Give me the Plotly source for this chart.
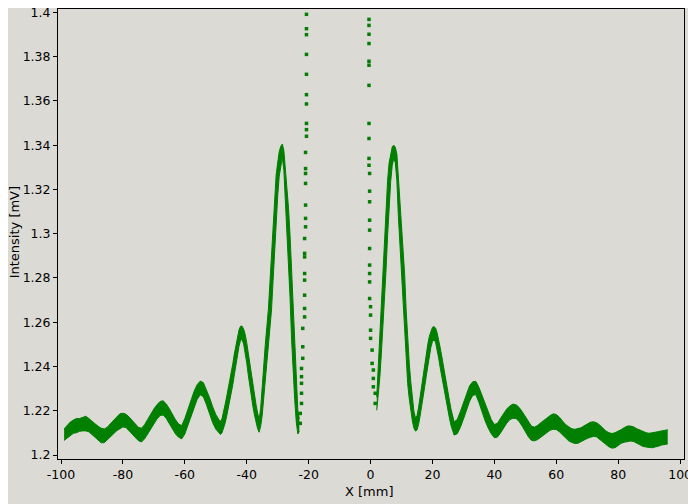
import plotly.graph_objects as go

# ---- data ----
# left noisy band (sample positions, band centre, band half-spread)
left_x = [-99, -98, -97, -96, -95, -94, -93, -92, -91, -90, -89, -88, -87, -86, -85, -84, -83, -82, -81, -80,
          -79, -78, -77, -76, -75, -74, -73, -72, -71, -70, -69, -68, -67, -66, -65, -64, -63, -62, -61, -60,
          -59, -58, -57, -56, -55, -54, -53, -52, -51, -50, -49,
          -48.5, -48, -47.5, -47, -46.5, -46, -45.5, -45, -44.5, -44, -43.5, -43, -42.5, -42, -41.5, -41,
          -40.5, -40, -39.5, -39, -38.5, -38, -37.5, -37, -36.5, -36, -35.5, -35, -34.5, -34, -33.5, -33,
          -32.5, -32, -31.5, -31, -30.5, -30, -29.5, -29, -28.5, -28, -27.5, -27, -26.5, -26, -25.5, -25,
          -24.5, -24, -23.5, -23]
left_y = [1.2092, 1.2105, 1.2118, 1.2128, 1.2133, 1.2136, 1.2140, 1.2142, 1.2135, 1.2122, 1.2110, 1.2098,
          1.2088, 1.2087, 1.2097, 1.2112, 1.2127, 1.2142, 1.2153, 1.2158, 1.2154, 1.2140, 1.2124, 1.2108,
          1.2095, 1.2090, 1.2105, 1.2128, 1.2152, 1.2175, 1.2195, 1.2210, 1.2213, 1.2198, 1.2175, 1.2150,
          1.2127, 1.2110, 1.2103, 1.2130, 1.2172, 1.2212, 1.2252, 1.2285, 1.2303, 1.2295, 1.2262, 1.2222,
          1.2182, 1.2150, 1.2130,
          1.2122, 1.2132, 1.2155, 1.2185, 1.2218, 1.2252, 1.2287, 1.2325, 1.2365, 1.2410, 1.2455, 1.2495,
          1.2528, 1.2550, 1.2552, 1.2535, 1.2505, 1.2462, 1.2410, 1.2358, 1.2310, 1.2265, 1.2225, 1.2188,
          1.2155, 1.2132, 1.2170, 1.2250, 1.2340, 1.2420, 1.2495, 1.2564, 1.2670, 1.2780, 1.2920, 1.3060,
          1.3165, 1.3245, 1.3315, 1.3355, 1.3375, 1.3330, 1.3220, 1.3110, 1.2995, 1.2850, 1.2680, 1.2510,
          1.2370, 1.2240, 1.2150, 1.2135]
left_spread = [0.0026, 0.0029, 0.0031, 0.0030, 0.0032, 0.0029, 0.0031, 0.0033, 0.0030, 0.0029, 0.0031, 0.0032,
               0.0033, 0.0031, 0.0029, 0.0030, 0.0031, 0.0032, 0.0033, 0.0031, 0.0030, 0.0032, 0.0031, 0.0032,
               0.0030, 0.0031, 0.0032, 0.0033, 0.0034, 0.0033, 0.0032, 0.0032, 0.0032, 0.0033, 0.0034, 0.0033,
               0.0032, 0.0030, 0.0030, 0.0035, 0.0037, 0.0037, 0.0036, 0.0033, 0.0031, 0.0032, 0.0035, 0.0037,
               0.0036, 0.0033, 0.0030,
               0.0029, 0.0032, 0.0037, 0.0042, 0.0044, 0.0045, 0.0045, 0.0046, 0.0047, 0.0047, 0.0045, 0.0042,
               0.0037, 0.0032, 0.0030, 0.0034, 0.0040, 0.0045, 0.0048, 0.0048, 0.0047, 0.0046, 0.0044, 0.0040,
               0.0035, 0.0029, 0.0040, 0.0070, 0.0080, 0.0080, 0.0085, 0.0095, 0.0110, 0.0125, 0.0135, 0.0125,
               0.0100, 0.0075, 0.0055, 0.0040, 0.0030, 0.0045, 0.0075, 0.0100, 0.0120, 0.0140, 0.0160, 0.0150,
               0.0120, 0.0090, 0.0055, 0.0028]

# right noisy band
right_x = [2.0, 2.5, 3.0, 3.5, 4.0, 4.5, 5.0, 5.5, 6.0, 6.5, 7.0, 7.5, 8.0, 8.5, 9.0, 9.5, 10.0, 10.5, 11.0,
           11.5, 12.0, 12.5, 13.0, 13.5, 14.0, 14.5, 15.0, 15.5, 16.0, 16.5, 17.0, 17.5, 18.0, 18.5, 19.0,
           19.5, 20.0, 20.5, 21.0, 21.5, 22.0, 22.5, 23.0, 23.5, 24.0, 24.5, 25.0, 25.5, 26.0,
           27, 28, 29, 30, 31, 32, 33, 34, 35, 36, 37, 38, 39, 40, 41, 42, 43, 44, 45, 46, 47, 48, 49, 50,
           51, 52, 53, 54, 55, 56, 57, 58, 59, 60, 61, 62, 63, 64, 65, 66, 67, 68, 69, 70, 71, 72, 73, 74,
           75, 76, 77, 78, 79, 80, 81, 82, 83, 84, 85, 86, 87, 88, 89, 90, 91, 92, 93, 94, 95, 96]
right_y = [1.2232, 1.2340, 1.2450, 1.2570, 1.2690, 1.2830, 1.2970, 1.3115, 1.3225, 1.3300, 1.3350, 1.3370,
           1.3355, 1.3300, 1.3165, 1.3055, 1.2945, 1.2825, 1.2680, 1.2530, 1.2422, 1.2335, 1.2265, 1.2205,
           1.2160, 1.2138, 1.2145, 1.2175, 1.2220, 1.2263, 1.2310, 1.2358, 1.2405, 1.2455, 1.2495, 1.2525,
           1.2545, 1.2550, 1.2542, 1.2515, 1.2480, 1.2440, 1.2400, 1.2355, 1.2315, 1.2280, 1.2243, 1.2205,
           1.2170,
           1.2120, 1.2128, 1.2160, 1.2200, 1.2240, 1.2278, 1.2300, 1.2303, 1.2272, 1.2232, 1.2192, 1.2157,
           1.2128, 1.2108, 1.2112, 1.2133, 1.2156, 1.2176, 1.2191, 1.2198, 1.2196, 1.2183, 1.2163, 1.2138,
           1.2115, 1.2098, 1.2095, 1.2102, 1.2113, 1.2124, 1.2135, 1.2145, 1.2151, 1.2149, 1.2138, 1.2122,
           1.2107, 1.2096, 1.2088, 1.2084, 1.2086, 1.2092, 1.2100, 1.2108, 1.2114, 1.2117, 1.2114, 1.2103,
           1.2090, 1.2078, 1.2069, 1.2064, 1.2067, 1.2075, 1.2084, 1.2091, 1.2096, 1.2097, 1.2094, 1.2087,
           1.2079, 1.2073, 1.2068, 1.2066, 1.2066, 1.2069, 1.2073, 1.2077, 1.2080, 1.2082]
right_spread = [0.0030, 0.0070, 0.0100, 0.0110, 0.0120, 0.0130, 0.0135, 0.0125, 0.0095, 0.0065, 0.0042, 0.0030,
                0.0035, 0.0060, 0.0090, 0.0110, 0.0120, 0.0135, 0.0140, 0.0125, 0.0100, 0.0080, 0.0065, 0.0050,
                0.0038, 0.0030, 0.0032, 0.0038, 0.0044, 0.0047, 0.0048, 0.0048, 0.0048, 0.0046, 0.0042, 0.0037,
                0.0032, 0.0030, 0.0032, 0.0037, 0.0042, 0.0045, 0.0046, 0.0046, 0.0045, 0.0044, 0.0042, 0.0040,
                0.0037,
                0.0030, 0.0032, 0.0036, 0.0038, 0.0038, 0.0035, 0.0031, 0.0030, 0.0034, 0.0037, 0.0037, 0.0035,
                0.0032, 0.0030, 0.0031, 0.0033, 0.0033, 0.0032, 0.0031, 0.0032, 0.0031, 0.0032, 0.0033, 0.0034,
                0.0033, 0.0032, 0.0031, 0.0032, 0.0033, 0.0031, 0.0032, 0.0033, 0.0035, 0.0034, 0.0033, 0.0032,
                0.0031, 0.0032, 0.0031, 0.0032, 0.0033, 0.0031, 0.0032, 0.0033, 0.0034, 0.0033, 0.0032, 0.0033,
                0.0032, 0.0031, 0.0032, 0.0033, 0.0034, 0.0032, 0.0031, 0.0033, 0.0035, 0.0034, 0.0033, 0.0032,
                0.0033, 0.0034, 0.0033, 0.0032, 0.0033, 0.0034, 0.0033, 0.0032, 0.0033, 0.0032]

# sparse samples on the flanks of the (clipped) central maximum
col_left_x = [-20.7, -20.7, -20.7, -20.7, -20.7, -20.7, -20.7, -20.7, -20.7, -20.7,
              -21.0, -21.0, -21.0, -21.0, -21.0, -21.0, -21.0,
              -21.3, -21.3, -21.3, -21.3, -21.3, -21.3, -21.3, -21.3,
              -21.9, -21.9, -21.9, -22.3, -22.3, -22.3, -22.3, -22.3, -22.7, -22.7]
col_left_y = [1.3991, 1.3926, 1.3899, 1.3810, 1.3720, 1.3628, 1.3586, 1.3498, 1.3470, 1.3440,
              1.3367, 1.3294, 1.3272, 1.3227, 1.3129, 1.3069, 1.3031,
              1.2978, 1.2911, 1.2895, 1.2820, 1.2790, 1.2722, 1.2662, 1.2624,
              1.2572, 1.2489, 1.2437, 1.2391, 1.2354, 1.2324, 1.2279, 1.2233, 1.2188, 1.2143]
col_right_x = [-0.5, -0.5, -0.5, -0.5, -0.5, -0.5, -0.5, -0.5, -0.5, -0.5, -0.5,
               -0.3, -0.3, -0.3, -0.3, -0.3, -0.3, -0.3, -0.3, -0.3, -0.3,
               0.0, 0.0, 0.0, 0.0, 0.5, 0.5, 0.9, 0.9, 0.9, 1.5, 1.5]
col_right_y = [1.3968, 1.3941, 1.3901, 1.3859, 1.3779, 1.3761, 1.3670, 1.3498, 1.3430, 1.3340, 1.3309,
               1.3272, 1.3192, 1.3144, 1.3061, 1.3016, 1.2933, 1.2858, 1.2820, 1.2782, 1.2707,
               1.2670, 1.2632, 1.2564, 1.2527, 1.2474, 1.2414, 1.2384, 1.2346, 1.2308, 1.2279, 1.2233]

x_ticks = [-100, -80, -60, -40, -20, 0, 20, 40, 60, 80, 100]
x_tick_text = ["-100", "-80", "-60", "-40", "-20", "0", "20", "40", "60", "80", "100"]
y_ticks = [1.2, 1.22, 1.24, 1.26, 1.28, 1.3, 1.32, 1.34, 1.36, 1.38, 1.4]
y_tick_text = ["1.2", "1.22", "1.24", "1.26", "1.28", "1.3", "1.32", "1.34", "1.36", "1.38", "1.4"]

GREEN = "#007f00"
BG = "#dcdad5"

fig = go.Figure()


def add_band(xs, ys, spread):
    lower = [c - s for c, s in zip(ys, spread)]
    upper = [c + s for c, s in zip(ys, spread)]
    fig.add_trace(go.Scatter(x=xs, y=lower, mode="lines",
                             line=dict(color=GREEN, width=1), hoverinfo="skip", showlegend=False))
    fig.add_trace(go.Scatter(x=xs, y=upper, mode="lines", fill="tonexty", fillcolor=GREEN,
                             line=dict(color=GREEN, width=1), hoverinfo="skip", showlegend=False))


add_band(left_x, left_y, left_spread)
add_band(right_x, right_y, right_spread)

for cx, cy in ((col_left_x, col_left_y), (col_right_x, col_right_y)):
    fig.add_trace(go.Scatter(x=cx, y=cy, mode="markers",
                             marker=dict(symbol="square", size=3.5, color=GREEN, line=dict(width=0)),
                             showlegend=False))

axis_font = dict(family="DejaVu Sans", size=12.5, color="black")
# the page adds an 8 px body margin, so the figure is 8 px smaller than the window
fig.update_layout(
    width=688, height=496,
    margin=dict(l=50, r=12, t=1, b=45),
    paper_bgcolor=BG, plot_bgcolor=BG,
    font=dict(family="DejaVu Sans", size=13, color="black"),
    showlegend=False,
    xaxis=dict(range=[-100.97, 101.26], tickvals=x_ticks, ticktext=x_tick_text,
               ticks="outside", ticklen=4, tickcolor="black", tickwidth=1,
               showline=True, linecolor="black", linewidth=1, mirror=True,
               showgrid=False, zeroline=False, tickfont=axis_font, automargin=False),
    yaxis=dict(range=[1.1982, 1.4015], tickvals=y_ticks, ticktext=y_tick_text,
               ticks="outside", ticklen=4, tickcolor="black", tickwidth=1,
               showline=True, linecolor="black", linewidth=1, mirror=True,
               showgrid=False, zeroline=False, tickfont=axis_font, automargin=False,
               ticklabeloverflow="allow"),
    annotations=[
        dict(text="X [mm]", xref="paper", yref="paper", x=0.498, y=-0.0732,
             xanchor="center", yanchor="middle", showarrow=False,
             font=dict(family="DejaVu Sans", size=13, color="black")),
        dict(text="Intensity [mV]", xref="paper", yref="paper", x=-0.0692, y=0.503,
             xanchor="center", yanchor="middle", showarrow=False, textangle=-90,
             font=dict(family="DejaVu Sans", size=13, color="black")),
    ],
)

fig.write_html("out.html")
